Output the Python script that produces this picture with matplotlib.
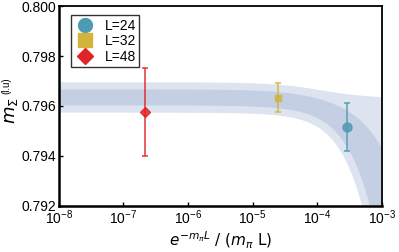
import numpy as np
import matplotlib
matplotlib.use("Agg")
import matplotlib.pyplot as plt

plt.rcParams['font.family'] = ['Liberation Sans', 'DejaVu Sans']
plt.rcParams['mathtext.fontset'] = 'dejavusans'

# data points
labels = ["L=24", "L=32", "L=48"]
x_vals = [2.93e-4, 2.48e-5, 2.17e-7]
y_vals = [0.79516, 0.79632, 0.79575]
y_errs = [0.00095, 0.00058, 0.00176]
colors = ["#4f9ab3", "#d2b43c", "#e02428"]
markers = ["o", "s", "D"]
msizes = [6.5, 5, 5.5]

# fit parameters: m(x) = M0 + c*x, sigma^2 = s0^2 + (sc*x)^2
M0 = 0.79636
c_fit = -4.4
s0 = 0.00032
sc = 2.3

fig = plt.figure(figsize=(3.99, 2.52), dpi=100)
ax = fig.add_axes([0.147, 0.183, 0.810, 0.793])

xx = np.logspace(-8, -3, 500)
center = M0 + c_fit * xx
sig = np.sqrt(s0**2 + (sc * xx)**2)
ax.fill_between(xx, center - 1.9 * sig, center + 1.9 * sig, color="#dde4f0", lw=0, zorder=1)
ax.fill_between(xx, center - sig, center + sig, color="#c4cfe4", lw=0, zorder=2)

for x, y, e, col, m, ms, lab in zip(x_vals, y_vals, y_errs, colors, markers, msizes, labels):
    ax.errorbar([x], [y], yerr=[e], fmt=m, color=col, ms=ms, capsize=2.5, elinewidth=1.2,
                capthick=1.2, alpha=0.85, zorder=3, label=lab)

ax.set_xscale('log')
ax.set_xlim(1e-8, 1e-3)
ax.set_ylim(0.792, 0.800)
ax.set_xticks([1e-8, 1e-7, 1e-6, 1e-5, 1e-4, 1e-3])
ax.set_yticks([0.792, 0.794, 0.796, 0.798, 0.800])
ax.set_yticklabels(["0.792", "0.794", "0.796", "0.798", "0.800"])
ax.minorticks_off()
ax.tick_params(direction='in', length=3, width=1, labelsize=10, pad=2)

for s in ['left', 'bottom']:
    ax.spines[s].set_linewidth(1.8)
for s in ['top', 'right']:
    ax.spines[s].set_linewidth(1.3)

ax.set_xlabel(r'$e^{-m_\pi L}\ /\ (m_\pi\ \mathrm{L})$', fontsize=11, labelpad=2)
# y label: main symbol plus small unit text
fig.text(11 / 399, 1 - 111 / 252, r'$m_\Sigma$', rotation=90, fontsize=13,
         ha='center', va='center')
fig.text(6 / 399, 1 - 86 / 252, '(l.u)', rotation=90, fontsize=7,
         ha='center', va='center')

handles = [plt.Line2D([], [], ls='', marker=m, color=col, ms=ms)
           for col, m, ms in zip(colors, markers, [10, 9.5, 8.5])]
leg = ax.legend(handles, labels, loc='upper left', fontsize=10, frameon=True, fancybox=False,
                edgecolor='black', borderpad=0.25, handletextpad=0.6, labelspacing=0.12,
                bbox_to_anchor=(0.037, 0.955), borderaxespad=0.0, handlelength=1.6)
leg.get_frame().set_linewidth(1.0)

fig.savefig("out.png", dpi=100)
